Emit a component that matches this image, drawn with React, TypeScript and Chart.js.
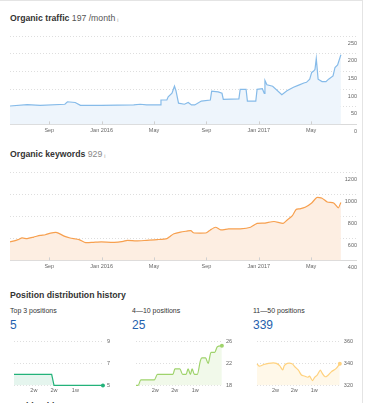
import React, { useEffect, useRef } from "react";
import { Chart, registerables } from "chart.js";

Chart.register(...registerables);

const FONT = '"Liberation Sans", Arial, Helvetica, sans-serif';

// Months since June 2015
const monthTickPositions = [3, 7, 11, 15, 19, 23];
const monthTickLabels = ["Sep", "Jan 2016", "May", "Sep", "Jan 2017", "May"];

const trafficMonths = [0, 1.31, 2.31, 4.19, 4.39, 4.98, 5.38, 6.97, 9.45, 9.94, 10.44, 11.48, 11.53, 11.98, 12.08, 12.37, 12.56, 12.67, 12.87, 13.32, 13.61, 13.86, 14.11, 14.61, 15.3, 15.4, 15.9, 16.19, 16.29, 17.48, 17.58, 18.03, 18.13, 18.77, 18.87, 19.27, 19.42, 19.47, 19.62, 20.06, 20.76, 21.15, 21.65, 22.05, 22.44, 22.64, 22.89, 23.04, 23.19, 23.29, 23.39, 23.53, 23.83, 24.13, 24.33, 24.67, 24.82, 25.02, 25.27];
const trafficValues = [52, 56, 54, 57, 64, 62, 54, 54, 55, 57, 55, 55, 69, 69, 78, 88, 108, 96, 60, 57, 62, 55, 55, 66, 69, 94, 92, 88, 71, 72, 99, 99, 66, 66, 99, 101, 88, 124, 112, 108, 84, 95, 105, 111, 117, 119, 128, 147, 151, 155, 186, 128, 121, 121, 128, 137, 161, 168, 197];
const trafficTicks = [0, 50, 100, 150, 200, 250];

const keywordMonths = [0, 0.62, 0.92, 1.31, 1.81, 2.31, 2.7, 3.1, 3.5, 3.69, 4.19, 4.59, 5.28, 5.78, 6.37, 6.97, 7.96, 8.65, 8.95, 9.65, 10.44, 11.23, 11.98, 12.22, 12.52, 13.02, 13.51, 13.81, 14.01, 14.51, 15.0, 15.3, 15.7, 16.09, 16.69, 17.58, 18.37, 18.87, 19.47, 20.16, 20.86, 21.15, 21.55, 21.85, 22.14, 22.54, 23.04, 23.43, 23.83, 24.23, 24.72, 25.07, 25.27];
const keywordValues = [567, 588, 603, 597, 611, 626, 632, 647, 653, 647, 617, 603, 588, 561, 564, 567, 564, 573, 582, 576, 582, 588, 597, 617, 641, 656, 665, 670, 650, 647, 650, 676, 700, 676, 685, 685, 700, 735, 738, 752, 735, 764, 802, 861, 867, 881, 920, 969, 963, 928, 920, 876, 925];
const keywordTicks = [400, 600, 800, 1000, 1200];

// Position distribution (days over the last month)
const historyTickPositions = [6.7, 13.5, 20.7];
const historyTickLabels = ["2w", "2w", "1w"];

const top3Days = [0, 12.7, 13.5, 30];
const top3Values = [6, 6, 5, 5];
const top3Ticks = [5, 7, 9];

const pos4to10Days = [0, 0.74, 1.7, 6.4, 7.5, 12.9, 13.6, 15.3, 16.3, 17.5, 18.2, 19.0, 19.6, 20.4, 21.4, 22.5, 23.0, 24.3, 25.2, 26.2, 27.5, 28.4, 30];
const pos4to10Values = [18, 18, 19, 19, 20, 20, 21, 21, 20, 20, 21, 20, 21, 20, 20, 22.5, 23, 23, 22, 24, 24, 25, 25.2];
const pos4to10Ticks = [18, 22, 26];

const pos11to50Days = [0, 0.8, 2.5, 4.2, 5.9, 7.0, 8.2, 9.3, 9.9, 11.0, 12.7, 13.8, 15.0, 16.1, 17.2, 18.4, 19.0, 20.1, 20.9, 21.8, 22.9, 23.5, 24.6, 25.4, 26.9, 28.6, 30];
const pos11to50Values = [339.6, 337.5, 339, 340, 340.5, 340, 338, 334, 338, 340, 339.6, 336.7, 333.8, 329.4, 328.5, 327.4, 328.5, 324.4, 327.4, 329.4, 333.8, 331.5, 328, 328.5, 332.3, 335.2, 339.6];
const pos11to50Ticks = [320, 340, 360];

const tickMarks = {
  id: "tickMarks",
  afterDraw(chart: any) {
    const x = chart.scales.x;
    const { ctx, chartArea } = chart;
    ctx.save();
    ctx.strokeStyle = "#d0d0d0";
    ctx.lineWidth = 1;
    x.ticks.forEach((t: any) => {
      const px = Math.round(x.getPixelForValue(t.value)) + 0.5;
      ctx.beginPath();
      ctx.moveTo(px, chartArea.bottom);
      ctx.lineTo(px, chartArea.bottom - 3);
      ctx.stroke();
    });
    ctx.restore();
  },
};

function BigChart(props: {
  xs: number[]; ys: number[]; yTicks: number[]; color: string; fill: string;
  tension: number; left: number; top: number;
}) {
  const ref = useRef<HTMLCanvasElement>(null);
  useEffect(() => {
    const { xs, ys, yTicks } = props;
    const chart = new Chart(ref.current!, {
      type: "line",
      data: {
        datasets: [{
          data: xs.map((x, i) => ({ x, y: ys[i] })),
          borderColor: props.color,
          backgroundColor: props.fill,
          borderWidth: 1.2,
          pointRadius: 0,
          fill: "start",
          tension: props.tension,
        }],
      },
      options: {
        animation: false,
        responsive: false,
        maintainAspectRatio: false,
        plugins: { legend: { display: false }, tooltip: { enabled: false } },
        layout: { padding: { top: 6, bottom: 3, left: 0, right: 0 } },
        scales: {
          x: {
            type: "linear",
            min: 0,
            max: 26.5,
            afterBuildTicks: (s: any) => { s.ticks = monthTickPositions.map((v) => ({ value: v })); },
            ticks: {
              callback: (v: any) => { const i = monthTickPositions.indexOf(v); return i >= 0 ? monthTickLabels[i] : ""; },
              font: { family: FONT, size: 5.5 },
              color: "#666",
              padding: 3,
              maxRotation: 0,
              autoSkip: false,
            },
            grid: { display: false, drawTicks: false },
            border: { display: true, color: "#dadada", width: 1 },
          },
          y: {
            position: "right",
            min: yTicks[0],
            max: yTicks[yTicks.length - 1],
            afterBuildTicks: (s: any) => { s.ticks = yTicks.map((v) => ({ value: v })); },
            ticks: {
              mirror: true,
              padding: 0,
              labelOffset: 7,
              font: { family: FONT, size: 5.5 },
              color: "#666",
              callback: (v: any) => String(v),
            },
            grid: { color: "#dedede", drawTicks: false, lineWidth: 1 },
            border: { display: false, dash: [1, 2] },
          },
        },
      } as any,
      plugins: [tickMarks],
    });
    return () => chart.destroy();
  }, []);
  return (
    <canvas
      ref={ref}
      width={347}
      height={110}
      style={{ position: "absolute", left: props.left, top: props.top, width: 347, height: 110 }}
    />
  );
}

function MiniChart(props: {
  xs: number[]; ys: number[]; yTicks: number[]; color: string; fill: string;
  tension: number; monotone?: boolean; left: number; top: number;
}) {
  const ref = useRef<HTMLCanvasElement>(null);
  useEffect(() => {
    const { xs, ys, yTicks } = props;
    const n = xs.length;
    const chart = new Chart(ref.current!, {
      type: "line",
      data: {
        datasets: [{
          data: xs.map((x, i) => ({ x, y: ys[i] })),
          borderColor: props.color,
          backgroundColor: props.fill,
          borderWidth: 1.2,
          pointRadius: (c: any) => (c.dataIndex === n - 1 ? 2 : 0),
          pointBackgroundColor: props.color,
          pointBorderWidth: 0,
          fill: "start",
          tension: props.tension,
          cubicInterpolationMode: props.monotone ? "monotone" : "default",
          clip: 4,
        }],
      },
      options: {
        animation: false,
        responsive: false,
        maintainAspectRatio: false,
        plugins: { legend: { display: false }, tooltip: { enabled: false } },
        layout: { padding: { top: 6, bottom: 4, left: 0, right: 0 } },
        scales: {
          x: {
            type: "linear",
            min: 0,
            max: 30,
            afterBuildTicks: (s: any) => { s.ticks = historyTickPositions.map((v) => ({ value: v })); },
            ticks: {
              callback: (v: any) => { const i = historyTickPositions.indexOf(v); return i >= 0 ? historyTickLabels[i] : ""; },
              font: { family: FONT, size: 5.5 },
              color: "#666",
              padding: 2,
              maxRotation: 0,
              autoSkip: false,
            },
            grid: { display: false, drawTicks: false },
            border: { display: false },
          },
          y: {
            position: "right",
            min: yTicks[0],
            max: yTicks[yTicks.length - 1],
            afterBuildTicks: (s: any) => { s.ticks = yTicks.map((v) => ({ value: v })); },
            ticks: {
              padding: 4,
              font: { family: FONT, size: 5.5 },
              color: "#666",
              callback: (v: any) => String(v),
            },
            grid: { color: "#dedede", drawTicks: false, lineWidth: 1 },
            border: { display: false, dash: [1, 2] },
          },
        },
      } as any,
    });
    return () => chart.destroy();
  }, []);
  return (
    <canvas
      ref={ref}
      width={104}
      height={66}
      style={{ position: "absolute", left: props.left, top: props.top, width: 104, height: 66 }}
    />
  );
}

const txt = (extra: React.CSSProperties): React.CSSProperties => ({
  position: "absolute",
  fontFamily: FONT,
  whiteSpace: "nowrap",
  margin: 0,
  ...extra,
});

const info = <span style={{ fontSize: 5, color: "#999", fontWeight: 400, marginLeft: 2, verticalAlign: "-1px" }}>i</span>;

export default function App() {
  return (
    <div style={{ position: "absolute", left: 0, top: 0, width: 369, height: 403, overflow: "hidden", background: "#fff" }}>
      <div style={{ position: "absolute", left: 0, top: 0, width: 362, height: 403, borderTop: "1px solid #e4e4e4", borderRight: "1px solid #e4e4e4" }} />

      <div style={txt({ left: 10, top: 12.8, fontSize: 8.7, lineHeight: "10px", fontWeight: 700, color: "#333" })}>
        Organic traffic <span style={{ fontWeight: 400, color: "#555" }}>197 /month</span>{info}
      </div>
      <BigChart xs={trafficMonths} ys={trafficValues} yTicks={trafficTicks} color="#86bbe9" fill="#eef5fc" tension={0} left={10} top={30} />

      <div style={txt({ left: 10, top: 149.4, fontSize: 8.7, lineHeight: "10px", fontWeight: 700, color: "#333" })}>
        Organic keywords <span style={{ fontWeight: 400, color: "#888" }}>929</span>{info}
      </div>
      <BigChart xs={keywordMonths} ys={keywordValues} yTicks={keywordTicks} color="#f7a04f" fill="#fdeee2" tension={0.2} left={10} top={165.7} />

      <div style={txt({ left: 10, top: 290, fontSize: 8.7, lineHeight: "10px", fontWeight: 700, color: "#333" })}>
        Position distribution history
      </div>

      <div style={txt({ left: 10, top: 306.9, fontSize: 7, lineHeight: "8px", color: "#333" })}>Top 3 positions</div>
      <div style={txt({ left: 10, top: 318.1, fontSize: 12, lineHeight: "14px", color: "#1f5fae" })}>5</div>
      <MiniChart xs={top3Days} ys={top3Values} yTicks={top3Ticks} color="#23b27a" fill="#e5f5ee" tension={0} left={10} top={334} />

      <div style={txt({ left: 132, top: 306.9, fontSize: 7, lineHeight: "8px", color: "#333" })}>4—10 positions</div>
      <div style={txt({ left: 132, top: 318.1, fontSize: 12, lineHeight: "14px", color: "#1f5fae" })}>25</div>
      <MiniChart xs={pos4to10Days} ys={pos4to10Values} yTicks={pos4to10Ticks} color="#9fd36c" fill="#f1f9ea" tension={0.4} monotone left={132} top={334} />

      <div style={txt({ left: 253, top: 306.9, fontSize: 7, lineHeight: "8px", color: "#333" })}>11—50 positions</div>
      <div style={txt({ left: 253, top: 318.1, fontSize: 12, lineHeight: "14px", color: "#1f5fae" })}>339</div>
      <MiniChart xs={pos11to50Days} ys={pos11to50Values} yTicks={pos11to50Ticks} color="#ffd27f" fill="#fff8e9" tension={0.3} left={253} top={334} />

      <div style={txt({ left: 10, top: 400.5, fontSize: 8.7, lineHeight: "10px", fontWeight: 700, color: "#333" })}>
        Position history
      </div>
    </div>
  );
}
